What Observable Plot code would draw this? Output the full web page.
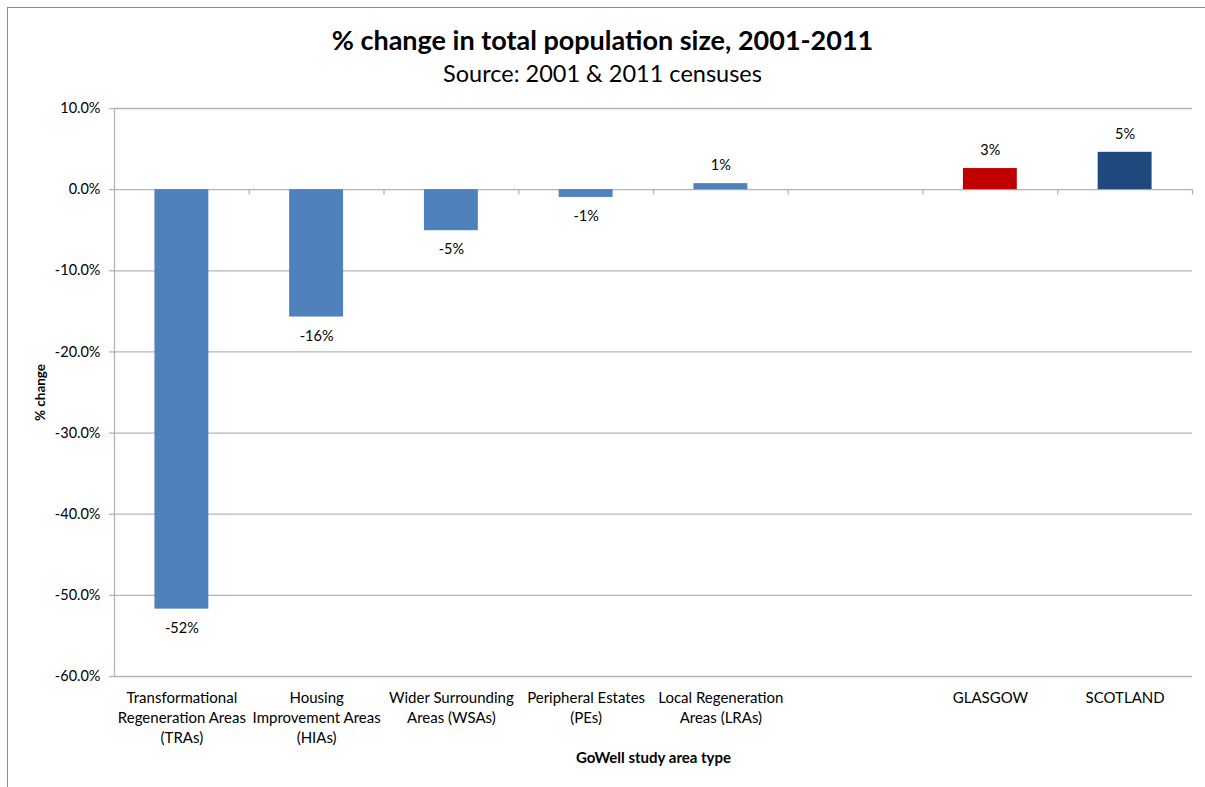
<!DOCTYPE html>
<html>
<head>
<meta charset="utf-8">
<script src="https://cdn.jsdelivr.net/npm/d3@7"></script>
<script src="https://cdn.jsdelivr.net/npm/@observablehq/plot@0.6"></script>
<style>
  body { margin: 0; background: #fff; font-family: Lato, "Open Sans", sans-serif; }
  #wrap { position: relative; width: 1205px; height: 787px; overflow: hidden; }
  #frame { position: absolute; left: 7px; top: 7px; width: 1300px; height: 900px;
           border-left: 1px solid #8c8c8c; border-top: 1px solid #8c8c8c; }
  #header { position: relative; height: 95px; text-align: center; color: #000; }
  #title { position: absolute; left: 0; right: 0; top: 22px; font-size: 27px; font-weight: bold; line-height: 36px; }
  #subtitle { position: absolute; left: 0; right: 0; top: 58px; font-size: 23.5px; line-height: 30px; }
  #chart { position: relative; }
</style>
</head>
<body>
<div id="wrap">
  <div id="frame"></div>
  <div id="header">
    <div id="title">% change in total population size, 2001-2011</div>
    <div id="subtitle">Source: 2001 &amp; 2011 censuses</div>
  </div>
  <div id="chart"></div>
</div>
<script>
const categories = [
  "Transformational\nRegeneration Areas\n(TRAs)",
  "Housing\nImprovement Areas\n(HIAs)",
  "Wider Surrounding\nAreas (WSAs)",
  "Peripheral Estates\n(PEs)",
  "Local Regeneration\nAreas (LRAs)",
  " ",
  "GLASGOW",
  "SCOTLAND"
];
const values = [-51.7, -15.7, -5.06, -0.96, 0.74, null, 2.6, 4.6];
const colors = ["#4f81bd", "#4f81bd", "#4f81bd", "#4f81bd", "#4f81bd", null, "#c00000", "#1f497d"];
const yTicks = [-60, -50, -40, -30, -20, -10, 0, 10];

const data = categories.map((c, i) => ({category: c, value: values[i], color: colors[i]}))
  .filter(d => d.value !== null);
const negatives = data.filter(d => d.value < 0);
const positives = data.filter(d => d.value >= 0);

const width = 1205, height = 692;
const marginLeft = 114, marginRight = 13, marginTop = 13, marginBottom = 111;
const step = (width - marginLeft - marginRight) / categories.length;
const grid = "#b3b3b3";
const font = "Lato, 'Open Sans', sans-serif";
const label = d => Math.round(d.value) + "%";

const chart = Plot.plot({
  width, height, marginLeft, marginRight, marginTop, marginBottom,
  style: {fontFamily: font, color: "#000", background: "transparent"},
  x: {domain: categories, paddingInner: 0.6, paddingOuter: 0.3, round: false, axis: null},
  y: {domain: [-60, 10], axis: null},
  marks: [
    Plot.ruleY(yTicks, {stroke: grid, strokeWidth: 1.3}),
    Plot.ruleX([categories[0]], {dx: -step / 2, y1: -60, y2: 10, stroke: grid, strokeWidth: 1.3}),
    Plot.ruleX(categories, {dx: step / 2, y1: 0, y2: -0.65, stroke: grid, strokeWidth: 1.3}),
    Plot.barY(data, {x: "category", y: "value", fill: "color"}),
    Plot.text(negatives, {x: "category", y: "value", text: label, dy: 19, fontSize: 14.5, fill: "#000"}),
    Plot.text(positives, {x: "category", y: "value", text: label, dy: -18, fontSize: 14.5, fill: "#000"}),
    Plot.axisY({ticks: yTicks, tickSize: 5, tickPadding: 9, fontSize: 14.5, stroke: grid, strokeWidth: 1.3,
      tickFormat: d => d.toFixed(1) + "%", label: null}),
    Plot.axisX({tickSize: 0, tickPadding: 12, fontSize: 15, lineHeight: 1.33, label: null}),
    Plot.text(["% change"], {frameAnchor: "left", dx: -74, rotate: -90, textAnchor: "middle", fontWeight: "bold", fontSize: 13.5}),
    Plot.text(["GoWell study area type"], {frameAnchor: "bottom", dy: 86, fontWeight: "bold", fontSize: 15})
  ]
});
document.getElementById("chart").append(chart);
</script>
</body>
</html>
